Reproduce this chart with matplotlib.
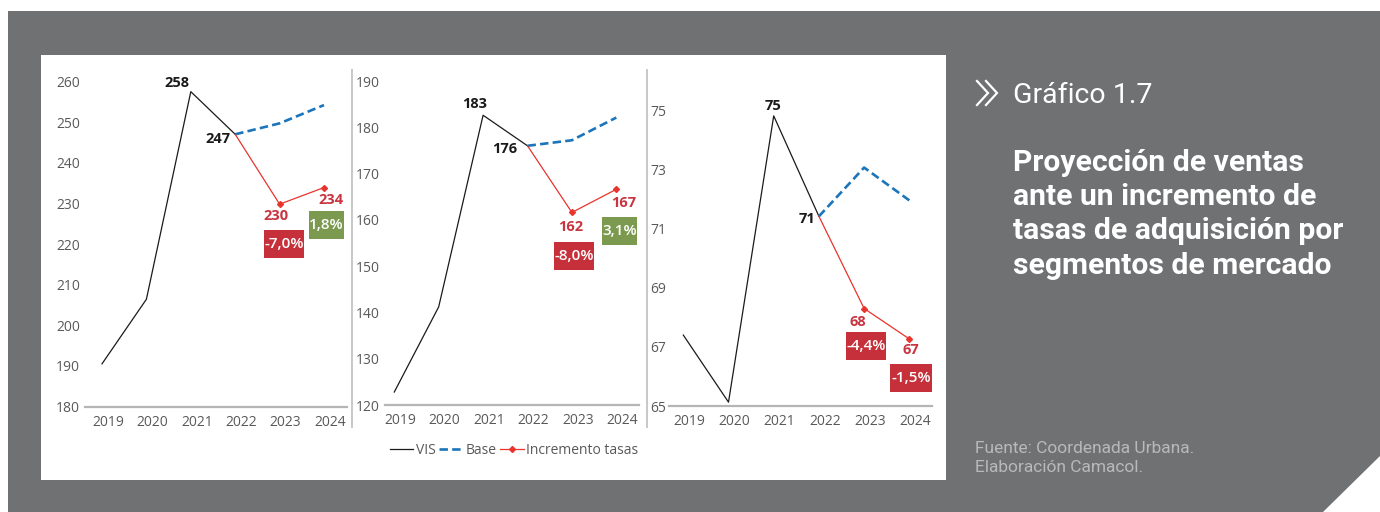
import matplotlib
matplotlib.use("Agg")
import matplotlib.pyplot as plt
from matplotlib.lines import Line2D
from matplotlib.patches import Rectangle, Polygon
from matplotlib.transforms import IdentityTransform, ScaledTranslation

plt.rcParams['font.family'] = ['Open Sans', 'DejaVu Sans']

# ---------------- data ----------------
years = ["2019", "2020", "2021", "2022", "2023", "2024"]

vis_a = [190.5, 206.4, 257.5, 247.0]
base_a = [247.0, 249.7, 254.2]
incr_a = [247.0, 229.8, 233.9]
labels_a = ["258", "247", "230", "234"]
pct_a = ["-7,0%", "1,8%"]
yticks_a = [180, 190, 200, 210, 220, 230, 240, 250, 260]

vis_b = [122.8, 141.2, 182.6, 176.0]
base_b = [176.0, 177.2, 182.1]
incr_b = [176.0, 161.6, 166.6]
labels_b = ["183", "176", "162", "167"]
pct_b = ["-8,0%", "3,1%"]
yticks_b = [120, 130, 140, 150, 160, 170, 180, 190]

vis_c = [67.4, 65.13, 74.82, 71.42]
base_c = [71.42, 73.07, 71.96]
incr_c = [71.42, 68.30, 67.27]
labels_c = ["75", "71", "68", "67"]
pct_c = ["-4,4%", "-1,5%"]
yticks_c = [65, 67, 69, 71, 73, 75]

series_names = ["VIS", "Base", "Incremento tasas"]

# ---------------- style ----------------
W, H = 1380, 512
GRAY_BG = "#707173"
C_VIS = "#1a1a1a"
C_BASE = "#1b75bb"
C_INCR = "#e8342c"
C_LAB_RED = "#c8343f"
C_BOX_RED = "#c5303b"
C_BOX_GREEN = "#7b9a50"
C_TICK = "#595959"

fig = plt.figure(figsize=(W / 100, H / 100), dpi=100)
fig.patch.set_facecolor("white")


def px_rect(x0, y0, x1, y1):
    return [x0 / W, 1 - y1 / H, (x1 - x0) / W, (y1 - y0) / H]


# background
fig.add_artist(Rectangle((8, 0), W - 8, H - 11, transform=IdentityTransform(),
                         facecolor=GRAY_BG, edgecolor="none", zorder=-10))
fig.add_artist(Rectangle((41, H - 480), 946 - 41, 480 - 55, transform=IdentityTransform(),
                         facecolor="white", edgecolor="none", zorder=-9))
fig.add_artist(Polygon([(W, H - 456), (W, 0), (1323, 0)], closed=True,
                       transform=IdentityTransform(), facecolor="white",
                       edgecolor="none", zorder=-9))

panels = [
    dict(box=(85, 81.5, 346.7, 406.5), xlim=(-0.383, 5.511), ylim=(180, 260),
         vis=vis_a, base=base_a, incr=incr_a, labels=labels_a, pct=pct_a,
         yticks=yticks_a, ypad=3.6,
         loff=[(-13.5, -8.7), (-17, 5), (-3.5, 11.5), (6.5, 12)],
         poff=[(4.7, 39.7, 40), (2.4, 37, 35)]),
    dict(box=(385, 81, 639, 405), xlim=(-0.209, 5.511), ylim=(120, 190),
         vis=vis_b, base=base_b, incr=incr_b, labels=labels_b, pct=pct_b,
         yticks=yticks_b, ypad=3.6,
         loff=[(-8, -11.7), (-23, 3.3), (-1, 14.3), (7, 13.3)],
         poff=[(2.3, 43.3, 40), (3.3, 41.5, 35)]),
    dict(box=(669.3, 81, 932, 406), xlim=(-0.31, 5.502), ylim=(65, 76),
         vis=vis_c, base=base_c, incr=incr_c, labels=labels_c, pct=pct_c,
         yticks=yticks_c, ypad=2.0,
         loff=[(-0.7, -10.3), (-12.3, 2.3), (-6.3, 13.7), (1.7, 11)],
         poff=[(1.7, 37.5, 40), (1.7, 39.1, 42)]),
]

x_all = list(range(len(years)))
handles = None
for p in panels:
    ax = fig.add_axes(px_rect(*p["box"]))
    ax.set_facecolor("none")
    xv = x_all[:len(p["vis"])]
    xp = x_all[3:]
    h1, = ax.plot(xv, p["vis"], color=C_VIS, lw=0.9)
    h2, = ax.plot(xp, p["base"], color=C_BASE, lw=1.9, dashes=(3.2, 1.6))
    h3, = ax.plot(xp, p["incr"], color=C_INCR, lw=0.9, marker="D", ms=3.0,
                  markevery=[1, 2])
    handles = [h1, h2, h3]
    ax.set_xlim(*p["xlim"])
    ax.set_ylim(*p["ylim"])
    ax.set_yticks(p["yticks"])
    ax.set_xticks(x_all)
    ax.set_xticklabels(years)
    for s in ["top", "right", "left"]:
        ax.spines[s].set_visible(False)
    ax.spines["bottom"].set_color("#b5b5b5")
    ax.spines["bottom"].set_linewidth(1.6)
    ax.tick_params(axis="both", length=0, labelsize=10, labelcolor=C_TICK)
    ax.tick_params(axis="y", pad=p["ypad"])
    ax.tick_params(axis="x", pad=6)
    off = ScaledTranslation(0.06, 0, fig.dpi_scale_trans)
    for lab in ax.get_xticklabels():
        lab.set_transform(lab.get_transform() + off)

    # value labels
    pts = [(2, p["vis"][2]), (3, p["vis"][3]), (4, p["incr"][1]), (5, p["incr"][2])]
    cols = [C_VIS, C_VIS, C_LAB_RED, C_LAB_RED]
    for (xx, yy), txt, (dx, dy), c in zip(pts, p["labels"], p["loff"], cols):
        ax.annotate(txt, (xx, yy), xytext=(dx, -dy), textcoords="offset pixels",
                    ha="center", va="center", fontsize=10.5, fontweight="bold",
                    color=c, annotation_clip=False)

    # percentage boxes
    for (xx, yy), txt, (dx, dy, bw) in zip(pts[2:], p["pct"], p["poff"]):
        dxp, dyp = ax.transData.transform((xx, yy))
        cx, cy = dxp + dx, dyp - dy
        col = C_BOX_RED if txt.startswith("-") else C_BOX_GREEN
        fig.add_artist(Rectangle((cx - bw / 2, cy - 14), bw, 28,
                                 transform=IdentityTransform(),
                                 facecolor=col, edgecolor="none", zorder=5))
        fig.text(cx / W, cy / H, txt, ha="center", va="center", color="white",
                 fontsize=11, fontweight="semibold", zorder=6)

# separators
for xs in (351.7, 646.7):
    fig.add_artist(Line2D([xs, xs], [H - 70, H - 427], transform=IdentityTransform(),
                          color="#c8c8c8", lw=1.4, zorder=1))

# legend
fig.legend(handles, series_names, loc="center", bbox_to_anchor=(514 / W, 1 - 450 / H),
           ncol=3, frameon=False, fontsize=10, labelcolor=C_TICK,
           handlelength=1.7, handletextpad=0.15, columnspacing=0.3,
           borderaxespad=0)

# right-hand text
fig.add_artist(Line2D([977, 988, 977], [H - 81, H - 93, H - 105],
                      transform=IdentityTransform(), color="white", lw=1.6,
                      solid_joinstyle="miter"))
fig.add_artist(Line2D([986, 997, 986], [H - 81, H - 93, H - 105],
                      transform=IdentityTransform(), color="white", lw=1.6,
                      solid_joinstyle="miter"))
fig.text(1013 / W, 1 - 103.3 / H, "Gráfico 1.7", family=["Roboto", "DejaVu Sans"],
         fontweight="normal", fontsize=20.5, color="white", va="baseline", ha="left")

title_lines = ["Proyección de ventas", "ante un incremento de",
               "tasas de adquisición por", "segmentos de mercado"]
for i, t in enumerate(title_lines):
    fig.text(1013 / W, 1 - (171 + 34.2 * i) / H, t, family=["Roboto", "DejaVu Sans"],
             fontweight="bold", fontsize=21.7, color="white", va="baseline", ha="left")

for i, t in enumerate(["Fuente: Coordenada Urbana.", "Elaboración Camacol."]):
    fig.text(975 / W, 1 - (453.3 + 18.4 * i) / H, t, family=["Roboto", "DejaVu Sans"],
             fontsize=12.5, color="#b9b9bb", va="baseline", ha="left")

fig.savefig("out.png", dpi=100)
